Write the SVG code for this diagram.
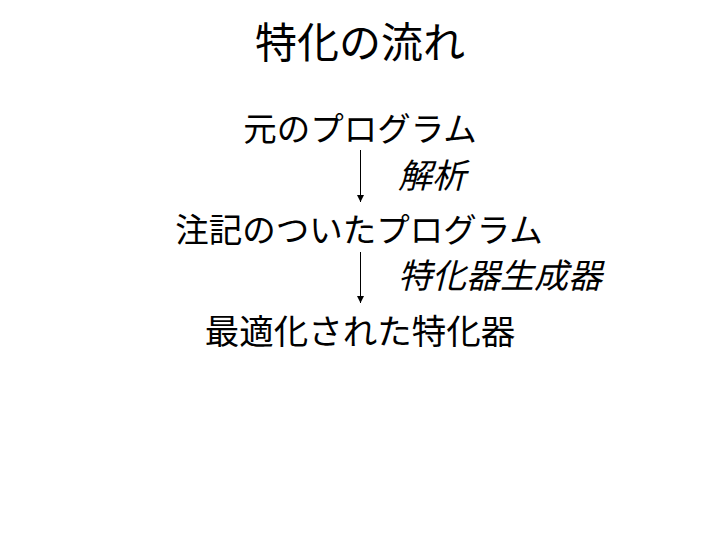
<svg xmlns="http://www.w3.org/2000/svg" width="720" height="540" viewBox="0 0 720 540">
<style>
text{font-family:"Noto Sans CJK JP","Noto Sans CJK SC",sans-serif;fill:#000;text-anchor:middle}
.t{font-size:42px}
.n{font-size:33.5px}
.w{font-size:34.5px}
.e{font-size:34px;font-style:italic;text-anchor:start}
.c{stroke:#000;stroke-width:1;fill:none}
</style>
<defs>
<marker id="ah" viewBox="0 0 10 10" refX="10" refY="5" markerWidth="7" markerHeight="7" markerUnits="userSpaceOnUse" orient="auto">
<path d="M0,0 L10,5 L0,10 z" fill="#000"/>
</marker>
</defs>
<rect width="720" height="540" fill="#fff"/>
<g id="title"><text class="t" x="360" y="58">特化の流れ</text></g>
<g id="n1"><text class="n" x="360" y="141">元のプログラム</text></g>
<g id="n2"><text class="n" x="359" y="242">注記のついたプログラム</text></g>
<g id="n3"><text class="w" x="360" y="344">最適化された特化器</text></g>
<g id="connectors">
<line class="c" x1="360.5" y1="150" x2="360.5" y2="202" marker-end="url(#ah)"/>
<line class="c" x1="360.5" y1="252" x2="360.5" y2="303" marker-end="url(#ah)"/>
<text class="e" x="398" y="188">解析</text>
<text class="e" x="398" y="288">特化器生成器</text>
</g>
</svg>
